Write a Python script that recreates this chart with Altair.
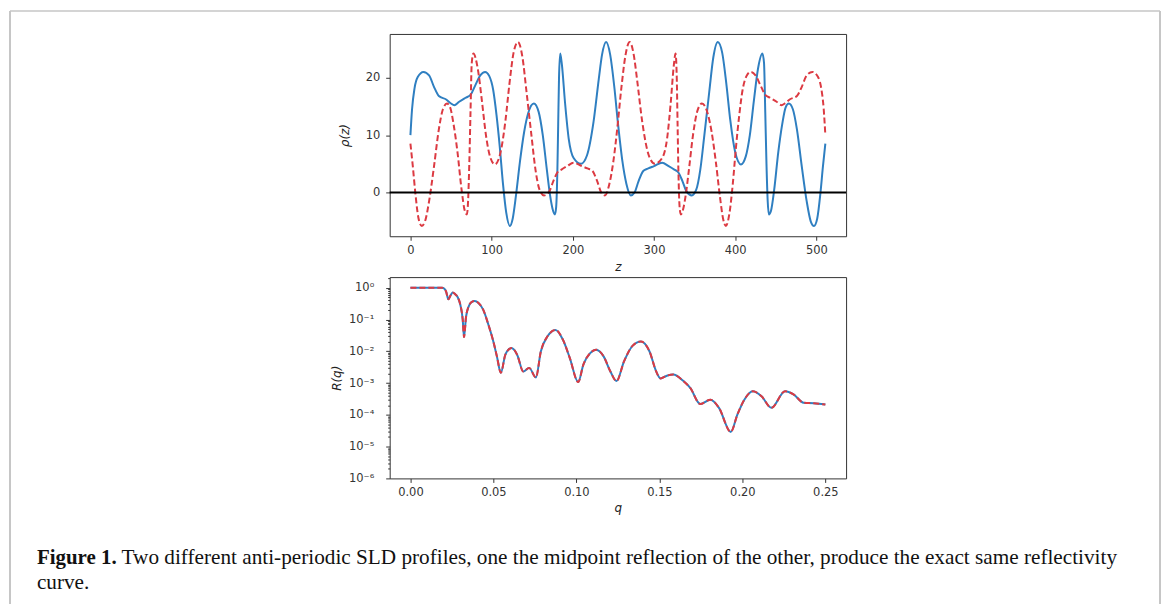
import altair as alt
import pandas as pd

# ---------------- data ----------------
# top panel: SLD profile rho(z), blue solid
blue_z = [0, 2, 5, 9, 16, 23, 29, 35, 44, 50, 54, 60, 68, 74, 80, 86, 92, 97, 102, 106,
          110, 114, 118, 122.5, 126, 130, 135, 140, 145, 152, 158, 163, 168, 172, 175, 178,
          179.5, 181, 182, 183, 184.5, 186.5, 190.5, 195, 201, 210, 217.5, 225.5, 232, 236,
          241, 246, 251, 256, 261, 266, 271.5, 276, 281, 287, 293, 300, 310, 318, 325, 330,
          335, 340, 346.5, 352, 357, 362, 368, 373, 378.5, 384, 389, 394, 400, 407, 413, 418,
          423, 428, 433.5, 435.5, 437, 438.5, 440, 441.5, 444, 448, 453, 458, 462, 466, 471,
          476, 482, 488, 493, 497, 501, 505, 508, 511]
blue_rho = [10.0, 14.5, 18.1, 20.1, 21.0, 20.4, 18.4, 16.8, 16.2, 15.5, 15.2, 15.8, 16.5, 17.0,
            18.7, 20.4, 21.0, 20.3, 17.8, 13.5, 8.0, 1.5, -3.5, -5.8, -4.5, -0.5, 5.5, 10.5,
            13.8, 15.5, 14.0, 10.0, 4.0, -0.5, -2.8, -3.8, -2.5, 4.0, 12.0, 20.0, 24.2, 22.3,
            15.5, 9.3, 6.0, 5.0, 6.5, 12.3, 19.8, 24.0, 26.2, 24.0, 18.5, 11.5, 5.5, 1.5, -0.5,
            0.0, 2.0, 3.8, 4.2, 4.6, 5.2, 4.6, 4.0, 3.5, 2.0, 0.2, -0.5, 0.5, 4.0, 10.0, 17.5,
            23.5, 26.2, 24.3, 19.0, 12.5, 7.0, 4.9, 6.3, 10.0, 16.0, 21.5, 24.2, 22.5, 14.0,
            5.0, -1.5, -3.8, -3.2, 0.5, 7.0, 12.0, 14.8, 15.5, 14.5, 11.0, 4.5, -1.5, -5.0,
            -5.8, -4.5, 0.0, 4.5, 8.5]

# top panel: midpoint-reflected profile, red dashed
red_z = [0, 3, 6, 10, 14, 18, 23, 29, 35, 40, 45, 49, 53, 58, 63, 67, 69.5, 71, 72.5, 74,
         75.5, 77.5, 83, 88, 93, 98, 104, 111, 117, 122, 127, 132.5, 138, 143, 149, 154, 159,
         164.5, 171, 176, 181, 186, 193, 201, 211, 218, 224, 230, 235, 239.5, 245, 250, 255,
         260, 265, 270, 275, 279, 285.5, 293.5, 301, 310, 316, 320.5, 324.5, 326.5, 328, 329,
         330, 331.5, 333, 336, 339, 343, 348, 353, 359, 366, 371, 376, 381, 385, 388.5, 393,
         397, 401, 405, 409, 414, 419, 425, 431, 437, 443, 451, 457, 461, 467, 476, 482, 488,
         495, 502, 506, 509, 511]
red_rho = [8.5, 4.5, 0.0, -4.5, -5.8, -5.0, -1.5, 4.5, 11.0, 14.5, 15.5, 14.8, 12.0, 7.0, 0.5,
           -3.2, -3.8, -1.5, 5.0, 14.0, 22.5, 24.2, 21.5, 16.0, 10.0, 6.3, 4.9, 7.0, 12.5, 19.0,
           24.3, 26.2, 23.5, 17.5, 10.0, 4.0, 0.5, -0.5, 0.2, 2.0, 3.5, 4.0, 4.6, 5.2, 4.6, 4.2,
           3.8, 2.0, 0.0, -0.5, 1.5, 5.5, 11.5, 18.5, 24.0, 26.2, 24.0, 19.8, 12.3, 6.5, 5.0,
           6.0, 9.3, 15.5, 22.3, 24.2, 20.0, 12.0, 4.0, -2.5, -3.8, -2.8, -0.5, 4.0, 10.0, 14.0,
           15.5, 13.8, 10.5, 5.5, -0.5, -4.5, -5.8, -3.5, 1.5, 8.0, 13.5, 17.8, 20.3, 21.0,
           20.4, 18.7, 17.0, 16.5, 15.8, 15.2, 15.5, 16.2, 16.8, 18.4, 20.4, 21.0, 20.1, 18.1,
           14.5, 10.0]

# bottom panel: reflectivity R(q) (identical for both profiles)
r_q = [0.0, 0.005, 0.010, 0.015, 0.019, 0.0205, 0.0215, 0.0229, 0.024, 0.0255, 0.027, 0.0285,
       0.030, 0.0315, 0.0323, 0.0335, 0.035, 0.0368, 0.0388, 0.041, 0.0439, 0.047, 0.050,
       0.0521, 0.0545, 0.0572, 0.0609, 0.0643, 0.068, 0.0715, 0.0756, 0.0786, 0.0827, 0.0874,
       0.0919, 0.096, 0.1011, 0.1042, 0.1083, 0.1119, 0.1164, 0.1205, 0.1242, 0.1287, 0.1338,
       0.1389, 0.144, 0.1481, 0.1507, 0.1545, 0.1583, 0.1645, 0.1686, 0.1746, 0.1808, 0.1859,
       0.193, 0.1971, 0.2012, 0.2063, 0.2114, 0.2175, 0.2257, 0.2308, 0.2369, 0.243, 0.25]
r_val = [1.0, 1.0, 1.0, 1.0, 1.0, 0.93, 0.75, 0.43, 0.55, 0.71, 0.62, 0.50, 0.30, 0.10, 0.028,
         0.12, 0.25, 0.35, 0.38, 0.33, 0.20, 0.068, 0.020, 0.0069, 0.0021, 0.0078, 0.0126,
         0.0078, 0.0023, 0.0030, 0.0015, 0.010, 0.030, 0.047, 0.023, 0.0062, 0.00107, 0.0038,
         0.0087, 0.0112, 0.0069, 0.0023, 0.00115, 0.0048, 0.0148, 0.0204, 0.010, 0.0023,
         0.0014, 0.0017, 0.00185, 0.00115, 0.0007, 0.00022, 0.0003, 0.000166, 0.000029,
         0.000105, 0.0003, 0.00055, 0.00039, 0.000166, 0.00055, 0.00044, 0.00024, 0.00023,
         0.00021]

# axis ticks and labels
z_ticks = [0, 100, 200, 300, 400, 500]
rho_ticks = [0, 10, 20]
q_ticks = [0.0, 0.05, 0.10, 0.15, 0.20, 0.25]
r_ticks = [1e-6, 1e-5, 1e-4, 1e-3, 1e-2, 1e-1, 1e0]
r_tick_labels = ["10⁻⁶", "10⁻⁵", "10⁻⁴", "10⁻³", "10⁻²", "10⁻¹", "10⁰"]
r_minor = [m * 10.0 ** e for e in range(-6, 1) for m in range(2, 10) if m * 10.0 ** e < 2.2]

caption_bold = "Figure 1."
caption_line1 = ("Two different anti-periodic SLD profiles, one the midpoint reflection "
                 "of the other, produce the exact same reflectivity")
caption_line2 = "curve."

BLUE = "#2f7fc1"
RED = "#dc3a42"
W, H1, H2 = 458, 203, 202

# ---------------- top panel ----------------
df_blue = pd.DataFrame({"z": blue_z, "v": blue_rho})
df_red = pd.DataFrame({"z": red_z, "v": red_rho})
df_zero = pd.DataFrame({"v": [0]})
df_one = pd.DataFrame({"k": [0]})

x_top = alt.X("z:Q", scale=alt.Scale(domain=[-25.55, 536.55], nice=False, zero=False),
              axis=alt.Axis(values=z_ticks, title="z", titleFontStyle="italic",
                            titlePadding=6, labelPadding=4))
y_top = alt.Y("v:Q", scale=alt.Scale(domain=[-7.6, 27.6], nice=False, zero=False),
              axis=alt.Axis(values=rho_ticks, title="ρ(z)", titleFontStyle="italic",
                            titlePadding=14, labelPadding=6))

blue_line = alt.Chart(df_blue).mark_line(color=BLUE, strokeWidth=2, interpolate="monotone").encode(
    x=x_top, y=y_top)
red_line = alt.Chart(df_red).mark_line(color=RED, strokeWidth=2, strokeDash=[6, 3],
                                       interpolate="monotone").encode(x=x_top, y=y_top)
zero_line = alt.Chart(df_zero).mark_rule(color="black", strokeWidth=2).encode(y=y_top)

# figure frame and caption (decoration, placed relative to the top panel)
FRAME = "#c6c6c6"
frame_left = alt.Chart(df_one).mark_rule(color=FRAME, strokeWidth=2).encode(
    x=alt.value(-381), y=alt.value(-23), y2=alt.value(572))
frame_right = alt.Chart(df_one).mark_rule(color=FRAME, strokeWidth=2).encode(
    x=alt.value(773), y=alt.value(-23), y2=alt.value(572))
frame_top = alt.Chart(df_one).mark_rule(color=FRAME, strokeWidth=1.5).encode(
    x=alt.value(-381), x2=alt.value(773), y=alt.value(-23))
cap_bold = alt.Chart(df_one).mark_text(font="Liberation Serif", fontSize=21, fontWeight="bold",
                                       align="left", baseline="alphabetic", color="#111").encode(
    x=alt.value(-354), y=alt.value(532), text=alt.value(caption_bold))
cap_1 = alt.Chart(df_one).mark_text(font="Liberation Serif", fontSize=21.3,
                                    align="left", baseline="alphabetic", color="#111").encode(
    x=alt.value(-269), y=alt.value(532), text=alt.value(caption_line1))
cap_2 = alt.Chart(df_one).mark_text(font="Liberation Serif", fontSize=21.3,
                                    align="left", baseline="alphabetic", color="#111").encode(
    x=alt.value(-354), y=alt.value(557), text=alt.value(caption_line2))

top = alt.layer(blue_line, red_line, zero_line, frame_left, frame_right, frame_top,
                cap_bold, cap_1, cap_2).properties(width=W, height=H1)

# ---------------- bottom panel ----------------
df_r = pd.DataFrame({"q": r_q, "R": r_val})
label_expr = " : ".join(
    f"datum.value >= {v * 0.5!r} ? '{lab}'" for v, lab in zip(r_ticks[::-1], r_tick_labels[::-1])
) + f" : '{r_tick_labels[0]}'"
x_bot = alt.X("q:Q", scale=alt.Scale(domain=[-0.0125, 0.2625], nice=False, zero=False),
              axis=alt.Axis(values=q_ticks, format=".2f", title="q", titleFontStyle="italic",
                            titlePadding=5, labelPadding=4))
y_bot = alt.Y("R:Q", scale=alt.Scale(type="log", domain=[1e-6, 2.15], nice=False),
              axis=alt.Axis(values=r_ticks, labelExpr=label_expr, title="R(q)",
                            titleFontStyle="italic", titlePadding=5, labelPadding=12))
y_minor = alt.Y("R:Q", scale=alt.Scale(type="log", domain=[1e-6, 2.15], nice=False),
                axis=alt.Axis(values=r_minor, labels=False, title=None, tickSize=2,
                              orient="left", domain=False))

r_blue = alt.Chart(df_r).mark_line(color=BLUE, strokeWidth=2, interpolate="monotone").encode(
    x=x_bot, y=y_bot)
r_red = alt.Chart(df_r).mark_line(color=RED, strokeWidth=2, strokeDash=[6, 3],
                                  interpolate="monotone").encode(x=x_bot, y=y_bot)
r_minor_layer = alt.Chart(df_r).mark_line(opacity=0).encode(x=x_bot, y=y_minor)

bottom = alt.layer(alt.layer(r_blue, r_red), r_minor_layer).resolve_scale(
    y="independent").properties(width=W, height=H2)

chart = alt.vconcat(top, bottom, spacing=41, bounds="flush").properties(
    padding=0, background="white"
).configure_view(
    stroke="#333", strokeWidth=1
).configure_axis(
    domain=False, grid=False, tickColor="#333", tickSize=4, labelColor="#333",
    labelFont="DejaVu Sans", labelFontSize=11.5, titleFont="DejaVu Sans", titleFontSize=12,
    titleFontWeight="normal", titleColor="#222"
)

chart.save("out.html", embed_options={"renderer": "svg", "actions": False})
